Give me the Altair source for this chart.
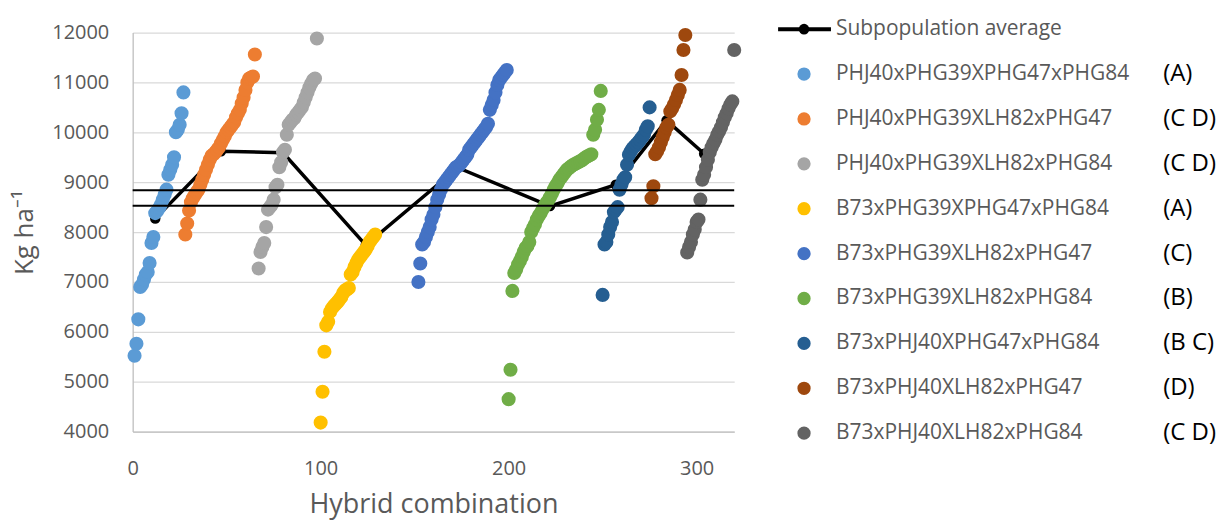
import altair as alt
import pandas as pd

# Subpopulations, their letter groupings and series colours
SUBPOPULATIONS = [
    "PHJ40xPHG39XPHG47xPHG84",
    "PHJ40xPHG39XLH82xPHG47",
    "PHJ40xPHG39XLH82xPHG84",
    "B73xPHG39XPHG47xPHG84",
    "B73xPHG39XLH82xPHG47",
    "B73xPHG39XLH82xPHG84",
    "B73xPHJ40XPHG47xPHG84",
    "B73xPHJ40XLH82xPHG47",
    "B73xPHJ40XLH82xPHG84",
]
GROUP_LETTERS = ["(A)", "(C D)", "(C D)", "(A)", "(C)", "(B)", "(B C)", "(D)", "(C D)"]
SERIES_COLORS = ["#5B9BD5", "#ED7D31", "#A5A5A5", "#FFC000", "#4472C4",
                 "#70AD47", "#255E91", "#9E480E", "#636363"]

# Number of the first hybrid in each subpopulation (hybrids are numbered consecutively)
FIRST_HYBRID = [1, 28, 67, 100, 152, 200, 250, 276, 295]

# Grain yield (kg/ha) of each hybrid, sorted within subpopulation
YIELD_1 = [5520, 5760, 6250, 6900, 6950, 7050, 7150, 7200, 7380, 7780, 7900, 8380, 8420, 8480,
           8550, 8650, 8750, 8850, 9150, 9250, 9350, 9500, 10000, 10050, 10150, 10380, 10800]
YIELD_2 = [7950, 8170, 8430, 8600, 8680, 8740, 8800, 8850, 8950, 9050, 9150, 9250, 9350, 9450,
           9530, 9560, 9600, 9650, 9700, 9780, 9850, 9920, 10000, 10050, 10100, 10150, 10200,
           10300, 10380, 10450, 10580, 10700, 10850, 11000, 11080, 11100, 11120, 11560]
YIELD_3 = [7270, 7600, 7700, 7780, 8100, 8450, 8500, 8550, 8650, 8900, 8950, 9300, 9400, 9600,
           9650, 9950, 10150, 10200, 10250, 10280, 10350, 10400, 10450, 10500, 10600, 10700,
           10800, 10900, 10980, 11050, 11080, 11880]
YIELD_4 = [4180, 4800, 5600, 6130, 6200, 6400, 6470, 6520, 6560, 6600, 6650, 6700, 6780, 6830,
           6850, 6880, 7150, 7200, 7300, 7380, 7450, 7500, 7550, 7600, 7650, 7720, 7800, 7850,
           7900, 7950]
YIELD_5 = [7000, 7370, 7750, 7800, 7900, 8000, 8100, 8250, 8350, 8500, 8650, 8750, 8850, 8950,
           9000, 9050, 9100, 9150, 9200, 9250, 9300, 9320, 9350, 9400, 9450, 9500, 9550, 9650,
           9700, 9750, 9800, 9850, 9900, 9950, 10000, 10050, 10100, 10170, 10450, 10550, 10650,
           10800, 10950, 11050, 11100, 11150, 11200, 11250]
YIELD_6 = [4650, 5240, 6820, 7180, 7250, 7350, 7420, 7500, 7600, 7680, 7720, 7800, 8000, 8080,
           8150, 8250, 8320, 8380, 8450, 8520, 8580, 8630, 8700, 8770, 8850, 8920, 8980, 9050,
           9100, 9150, 9200, 9250, 9280, 9310, 9340, 9360, 9380, 9400, 9420, 9440, 9470, 9500,
           9520, 9540, 9560, 9950, 10050, 10250, 10450, 10830]
YIELD_7 = [6740, 7750, 7800, 7950, 8100, 8200, 8400, 8450, 8500, 8850, 8950, 9050, 9100, 9350,
           9550, 9620, 9680, 9720, 9760, 9800, 9850, 9900, 9950, 10050, 10120, 10500]
YIELD_8 = [8680, 8920, 9560, 9620, 9700, 9800, 9900, 10000, 10100, 10150, 10420, 10480, 10560,
           10650, 10750, 10850, 11150, 11650, 11950]
YIELD_9 = [7590, 7700, 7800, 7950, 8050, 8200, 8250, 8650, 9050, 9150, 9300, 9450, 9600, 9700,
           9780, 9850, 9950, 10020, 10100, 10200, 10300, 10380, 10480, 10560, 10620, 11650]
YIELDS = [YIELD_1, YIELD_2, YIELD_3, YIELD_4, YIELD_5, YIELD_6, YIELD_7, YIELD_8, YIELD_9]

# Subpopulation averages
AVERAGE_HYBRID = [12, 47, 80, 124, 173, 222, 257, 284, 304]
AVERAGE_YIELD = [8270, 9620, 9590, 7740, 9290, 8520, 8950, 10240, 9570]

# Horizontal reference levels
REFERENCE_YIELD = [8840, 8530]

FONT = "Open Sans"
GREY_TEXT = "#595959"

rows = []
for name, first, values in zip(SUBPOPULATIONS, FIRST_HYBRID, YIELDS):
    for i, v in enumerate(values):
        rows.append({"hybrid": first + i, "yield": v, "subpopulation": name})
points = pd.DataFrame(rows)
averages = pd.DataFrame({"hybrid": AVERAGE_HYBRID, "yield": AVERAGE_YIELD})
references = pd.DataFrame({"yield": REFERENCE_YIELD})

color = alt.Color("subpopulation:N",
                  scale=alt.Scale(domain=SUBPOPULATIONS, range=SERIES_COLORS),
                  legend=None)
x = alt.X("hybrid:Q",
          scale=alt.Scale(domain=[0, 320], nice=False, zero=False),
          axis=alt.Axis(values=[0, 100, 200, 300], title="Hybrid combination",
                        grid=False, ticks=False, domainColor="#BFBFBF", domainWidth=1.3,
                        labelFlush=False, labelFontSize=20, labelPadding=27,
                        titleFontSize=27, titlePadding=13))
y = alt.Y("yield:Q",
          scale=alt.Scale(domain=[4000, 12000], nice=False, zero=False),
          axis=alt.Axis(values=list(range(4000, 12001, 1000)), format="d",
                        title="Kg ha\u207b\u00b9", grid=True, gridColor="#D9D9D9",
                        gridWidth=1.3, ticks=False, domainColor="#BFBFBF", domainWidth=1.3,
                        labelFlush=False, labelFontSize=20, labelPadding=24,
                        titleFontSize=26, titlePadding=14))

# Average line first, hybrid markers over it, reference levels on top
average_line = alt.Chart(averages).mark_line(
    color="black", strokeWidth=3.5,
    point=alt.OverlayMarkDef(filled=True, color="black", size=110, opacity=1),
).encode(x=x, y=y)

hybrid_points = alt.Chart(points).mark_circle(size=200, opacity=1).encode(
    x=x, y=y, color=color)

reference_rules = alt.Chart(references).mark_rule(color="black", strokeWidth=2).encode(y=y)

main = alt.layer(average_line, hybrid_points, reference_rules).properties(
    width=603, height=400)

# Legend panel
legend_rows = pd.DataFrame({
    "row": list(range(1, len(SUBPOPULATIONS) + 1)),
    "subpopulation": SUBPOPULATIONS,
    "letter": GROUP_LETTERS,
})
average_row = pd.DataFrame({"row": [0], "label": ["Subpopulation average"]})

ly = alt.Y("row:Q", scale=alt.Scale(domain=[0, 9], range=[-3.4, 401.6]), axis=None)

legend_symbols = alt.Chart(legend_rows).mark_circle(size=177, opacity=1).encode(
    x=alt.value(62), y=ly, color=color)
legend_names = alt.Chart(legend_rows).mark_text(
    align="left", baseline="middle", font=FONT, fontSize=21, color=GREY_TEXT
).encode(x=alt.value(94), y=ly, text="subpopulation:N")
legend_letters = alt.Chart(legend_rows).mark_text(
    align="left", baseline="middle", font=FONT, fontSize=24, color="black"
).encode(x=alt.value(422), y=ly, text="letter:N")
avg_rule = alt.Chart(average_row).mark_rule(color="black", strokeWidth=4).encode(
    x=alt.value(36), x2=alt.value(89), y=ly)
avg_dot = alt.Chart(average_row).mark_circle(size=113, color="black", opacity=1).encode(
    x=alt.value(62), y=ly)
avg_label = alt.Chart(average_row).mark_text(
    align="left", baseline="middle", font=FONT, fontSize=21, color=GREY_TEXT
).encode(x=alt.value(94), y=ly, text="label:N")

legend = alt.layer(avg_rule, avg_dot, avg_label, legend_symbols, legend_names,
                   legend_letters).properties(width=480, height=400)

chart = alt.hconcat(main, legend, spacing=0).properties(
    padding={"left": 11, "top": 17, "right": 5, "bottom": 5},
    background="white",
).configure_view(strokeWidth=0).configure_axis(
    labelFont=FONT, titleFont=FONT, labelColor=GREY_TEXT, titleColor=GREY_TEXT,
    titleFontWeight="normal",
)

chart.save("out.html", embed_options={"renderer": "svg", "actions": False})
